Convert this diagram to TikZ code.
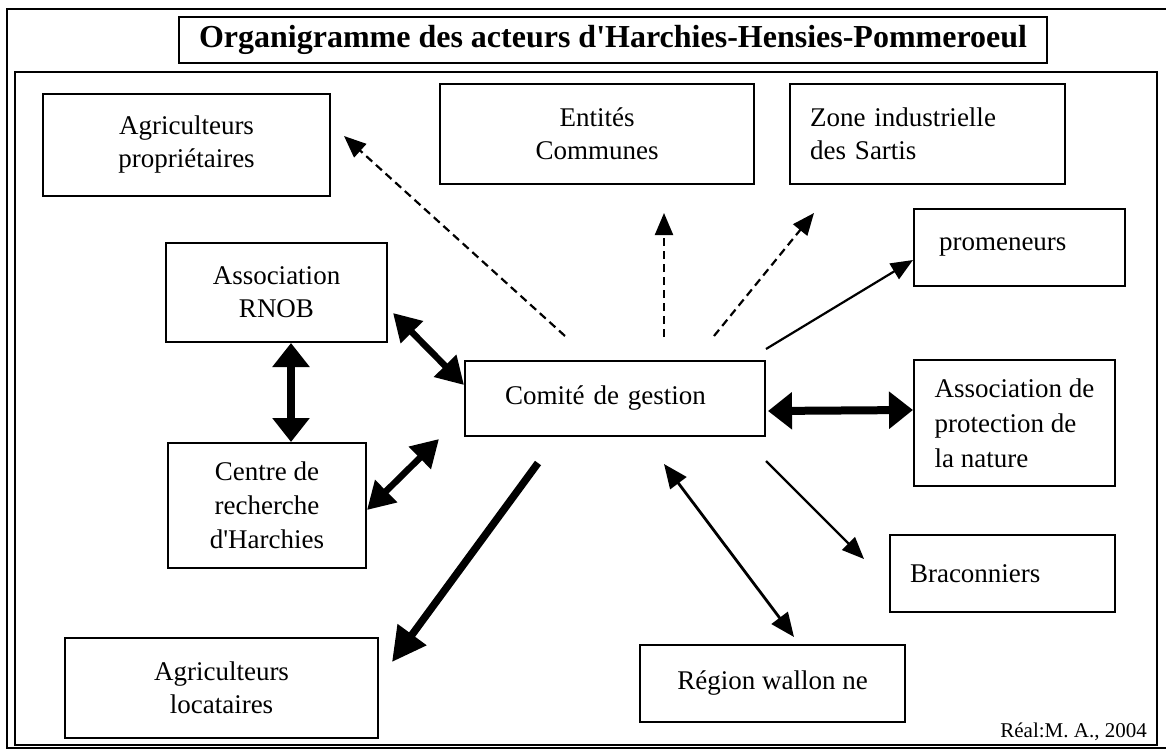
\documentclass[tikz,border=0pt]{standalone}
\usepackage{fontspec}
\setmainfont{Liberation Serif}
\usetikzlibrary{arrows.meta}
\begin{document}
\begin{tikzpicture}[x=1pt,y=-1pt,
  box/.style={draw=black, line width=2pt, inner sep=0pt, font=\fontsize{27}{33}\selectfont, align=center},
  lbox/.style={box, align=left},
  dasharrow/.style={line width=2.2pt, dash pattern=on 8pt off 5pt, -{Triangle[length=22pt,width=18pt]}},
  thinarrow/.style={line width=2.2pt, -{Triangle[length=22pt,width=18pt]}},
  medboth/.style={line width=2.8pt, {Triangle[length=24pt,width=20pt]}-{Triangle[length=24pt,width=20pt]}},
  boldboth/.style={line width=6.5pt, {Triangle[length=27pt,width=30pt]}-{Triangle[length=27pt,width=30pt]}},
  heavyboth/.style={line width=8pt, {Triangle[length=24pt,width=36pt]}-{Triangle[length=24pt,width=36pt]}},
  heavyarrow/.style={line width=7.5pt, -{Triangle[length=34pt,width=34pt]}}
]
\useasboundingbox (0,0) rectangle (1166,749);
% frames
\draw[line width=2.5pt] (1170,9) -- (7,9) -- (7,748) -- (1170,748);
\draw[line width=2.2pt] (15,72) rectangle (1157,745);
% title
\node[draw=black, line width=2.2pt, minimum width=868pt, minimum height=46pt, inner sep=0pt,
      font=\bfseries\fontsize{32}{38}\selectfont] (title) at (613,40)
      {Organigramme des acteurs d\textquotesingle Harchies-Hensies-Pommeroeul};
% boxes
\node[box, minimum width=287pt, minimum height=102pt] (agp) at (186.5,145) {Agriculteurs\\propriétaires};
\node[box, minimum width=314pt, minimum height=100pt] (ent) at (597,134) {Entités\\Communes};
\node[lbox, minimum width=275pt, minimum height=100pt, text width=235pt, inner xsep=20pt] (zone) at (927.5,134) {Zone industrielle\\des Sartis};
\node[lbox, minimum width=211pt, minimum height=77pt, text width=161pt, inner xsep=25pt] (prom) at (1019.5,247.5) {promeneurs};
\node[box, minimum width=221pt, minimum height=99pt] (rnob) at (276.5,292.5) {Association\\RNOB};
\node[lbox, minimum width=300pt, minimum height=75pt, text width=220pt, inner xsep=40pt] (com) at (615,398.5) {Comité de gestion};
\node[lbox, minimum width=201pt, minimum height=126pt, font=\fontsize{27}{35}\selectfont] (apn) at (1014.5,423) {Association de\\protection de\\la nature};
\node[box, minimum width=198pt, minimum height=125pt, font=\fontsize{27}{34}\selectfont] (cen) at (267,505.5) {Centre de\\recherche\\d\textquotesingle Harchies};
\node[lbox, minimum width=225pt, minimum height=77pt, text width=185pt, inner xsep=20pt] (brac) at (1002.5,573.5) {Braconniers};
\node[box, minimum width=313pt, minimum height=100pt] (agl) at (221.5,688) {Agriculteurs\\locataires};
\node[box, minimum width=265pt, minimum height=77pt] (reg) at (772.5,683.5) {Région wallon ne};
\node[anchor=base east, inner sep=0pt, font=\fontsize{21}{25}\selectfont] (real) at (1147,737) {Réal:M. A., 2004};
% connectors
\draw[dasharrow] ([shift={(101,-24)}]com.north west) -- ([shift={(13,43)}]agp.north east);
\draw[dasharrow] ([shift={(200,-23)}]com.north west) -- ([shift={(225,28)}]ent.south west);
\draw[dasharrow] ([shift={(250,-24)}]com.north west) -- ([shift={(25,28)}]zone.south west);
\draw[thinarrow] ([shift={(0,-11)}]com.north east) -- ([shift={(0,12.5)}]prom.west);
\draw[heavyboth] ([shift={(2,-26)}]com.south east) -- ([shift={(0,-13)}]apn.west);
\draw[thinarrow] ([shift={(0,24)}]com.south east) -- ([shift={(-25,25)}]brac.north west);
\draw[medboth] ([shift={(200,27)}]com.south west) -- ([shift={(155,-7)}]reg.north west);
\draw[heavyarrow] ([shift={(74,26)}]com.south west) -- ([shift={(13,25)}]agl.north east);
\draw[boldboth] ([shift={(0,4.5)}]cen.east) -- ([shift={(-25,2)}]com.south west);
\draw[boldboth] ([shift={(5,20.5)}]rnob.east) -- ([shift={(0,-13.5)}]com.west);
\draw[heavyboth] ([shift={(14.5,0)}]rnob.south) -- ([shift={(24,0)}]cen.north);
\end{tikzpicture}
\end{document}
